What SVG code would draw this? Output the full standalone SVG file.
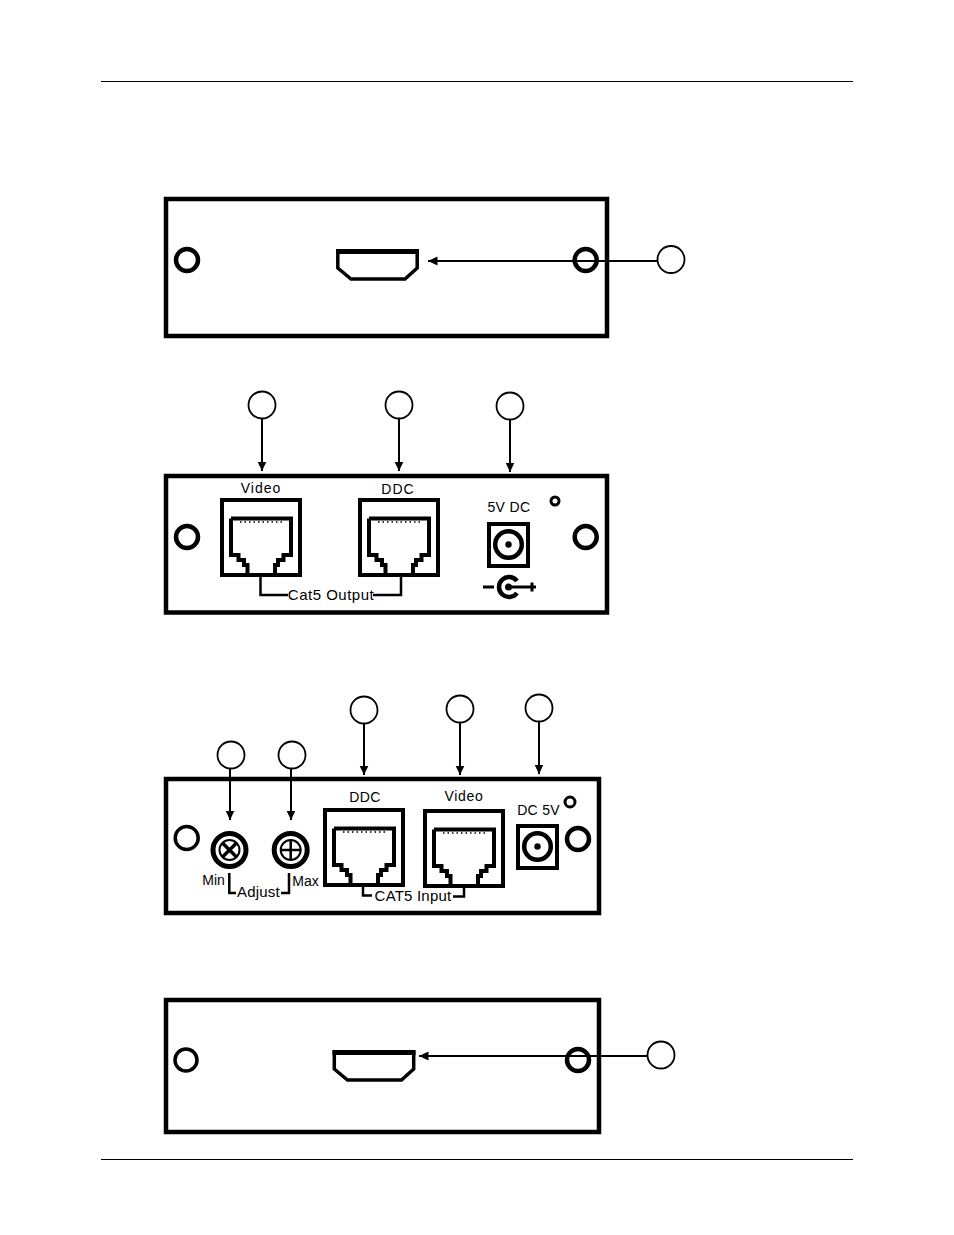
<svg xmlns="http://www.w3.org/2000/svg" xmlns:xlink="http://www.w3.org/1999/xlink" width="954" height="1235" viewBox="0 0 954 1235">
<style>
.panel{fill:#fff;stroke:#000;stroke-width:4.5}
.hole{fill:none;stroke:#000;stroke-width:4.500}
.callout{fill:#fff;stroke:#000;stroke-width:1.800}
.rule{stroke:#000;stroke-width:1}
.wire{fill:none;stroke:#000;stroke-width:2}
.brk{fill:none;stroke:#000;stroke-width:2.500}
.lbl{font-family:"Liberation Sans",Arial,sans-serif;font-size:14px;fill:#000;text-anchor:middle}
.k{fill:none;stroke:#000}
</style>
<defs>
<marker id="ah" markerUnits="userSpaceOnUse" markerWidth="11" markerHeight="11" refX="9.500" refY="5.500" orient="auto"><path d="M0,1 L9.500,5.500 L0,10 Z" fill="#000"/></marker>
<g id="rj45">
<rect x="2" y="2" width="78" height="75" fill="#fff" stroke="#000" stroke-width="4"/>
<path d="M11,20.500 H71 V57 H63.500 V62 H58 V67 H55 V77 M11,20.500 V57 H18.500 V62 H24 V67 H27.500 V77" fill="none" stroke="#000" stroke-width="4"/>
<path d="M20,24 H63" fill="none" stroke="#000" stroke-width="1.500" stroke-dasharray="1.500 3"/>
</g>
<g id="hdmi">
<path d="M1.800,2 H81.200 V19 L69,30 H15 L1.800,19 Z" fill="#fff" stroke="#000" stroke-width="3.500"/>
<rect x="0" y="0" width="83" height="5" fill="#000"/>
</g>
<g id="jack">
<rect x="2" y="2" width="39" height="42" fill="#fff" stroke="#000" stroke-width="4"/>
<circle cx="21.500" cy="22.500" r="13.300" fill="none" stroke="#000" stroke-width="4.500"/>
<circle cx="21.500" cy="22.500" r="3.200" fill="#000"/>
</g>
</defs>
<rect width="954" height="1235" fill="#fff"/>
<g id="header-rule"><line class="rule" x1="101" y1="81.500" x2="853" y2="81.500"/></g>
<g id="footer-rule"><line class="rule" x1="101" y1="1159.500" x2="853" y2="1159.500"/></g>

<g id="panel-1">
<rect class="panel" x="166" y="199" width="441" height="137"/>
<circle class="hole" cx="187" cy="260" r="11"/>
<circle class="hole" cx="585.700" cy="260" r="11"/>
<use href="#hdmi" x="336" y="249"/>
</g>

<g id="panel-2">
<rect class="panel" x="166" y="476" width="441" height="136.500"/>
<circle class="hole" cx="187" cy="537" r="11"/>
<circle class="hole" cx="585.700" cy="537" r="11"/>
<use href="#rj45" x="220" y="498"/>
<use href="#rj45" x="358" y="498"/>
<text class="lbl" x="261" y="493" style="letter-spacing:1px">Video</text>
<text class="lbl" x="398" y="494" style="letter-spacing:1px">DDC</text>
<path class="brk" d="M260.500,575 V595 H288 M401,575 V595 H373"/>
<text class="lbl" x="331" y="600" style="font-size:15px;letter-spacing:.5px">Cat5 Output</text>
<text class="lbl" x="509" y="512" style="letter-spacing:.4px">5V DC</text>
<circle cx="555" cy="501" r="4" fill="none" stroke="#000" stroke-width="3"/>
<use href="#jack" x="487" y="522"/>
<g id="polarity">
<path d="M483,587 H494 M508,587 H528 M526,587 H536 M532,582.500 V591.500" fill="none" stroke="#000" stroke-width="3"/>
<path d="M517,581 A10,10 0 1 0 517,593" fill="none" stroke="#000" stroke-width="4.500"/>
<circle cx="508.500" cy="587" r="3.500" fill="#000"/>
</g>
</g>

<g id="panel-3">
<rect class="panel" x="166" y="779" width="433" height="134"/>
<circle cx="186.700" cy="838" r="11.500" fill="none" stroke="#000" stroke-width="3.500"/>
<circle class="hole" cx="578" cy="839" r="11"/>
<g id="knob-min">
<circle class="k" cx="229.500" cy="850" r="16.500" stroke-width="5"/>
<circle class="k" cx="229.500" cy="850" r="10" stroke-width="2"/>
<path class="k" stroke-width="3.500" d="M222.500,843 L236.500,857 M236.500,843 L222.500,857"/>
</g>
<g id="knob-max">
<circle class="k" cx="290.700" cy="850" r="16.500" stroke-width="5"/>
<circle class="k" cx="290.700" cy="850" r="10" stroke-width="2"/>
<path class="k" stroke-width="2.500" d="M290.700,840 V860 M280.700,850 H300.700"/>
</g>
<text class="lbl" x="213.500" y="885">Min</text>
<text class="lbl" x="305.500" y="886">Max</text>
<text class="lbl" x="258.500" y="897" style="font-size:15px;letter-spacing:.2px">Adjust</text>
<path class="brk" d="M229.300,873 V893 H236 M289,873 V893 H281"/>
<use href="#rj45" x="323" y="808"/>
<use href="#rj45" x="423" y="809"/>
<text class="lbl" x="365" y="802" style="letter-spacing:.4px">DDC</text>
<text class="lbl" x="464" y="801" style="letter-spacing:.7px">Video</text>
<text class="lbl" x="413" y="901" style="font-size:15px;letter-spacing:.2px">CAT5 Input</text>
<path class="brk" d="M363,884 V895.500 H372 M464,885 V896.500 H453"/>
<text class="lbl" x="538.500" y="815" style="letter-spacing:.3px">DC 5V</text>
<circle cx="570" cy="802" r="5" fill="none" stroke="#000" stroke-width="3"/>
<use href="#jack" x="516" y="824"/>
</g>

<g id="panel-4">
<rect class="panel" x="166" y="1000" width="433" height="132"/>
<circle cx="186" cy="1060" r="11" fill="none" stroke="#000" stroke-width="3.500"/>
<circle class="hole" cx="578" cy="1060" r="11"/>
<use href="#hdmi" x="332.500" y="1050"/>
</g>

<g id="connectors">
<line class="wire" x1="657.500" y1="261" x2="428" y2="261" marker-end="url(#ah)"/>
<line class="wire" x1="262" y1="419" x2="262" y2="471" marker-end="url(#ah)"/>
<line class="wire" x1="399" y1="419" x2="399" y2="471" marker-end="url(#ah)"/>
<line class="wire" x1="510" y1="420" x2="510" y2="472" marker-end="url(#ah)"/>
<line class="wire" x1="364" y1="724" x2="364" y2="775" marker-end="url(#ah)"/>
<line class="wire" x1="460" y1="723" x2="460" y2="775" marker-end="url(#ah)"/>
<line class="wire" x1="539" y1="722" x2="539" y2="774" marker-end="url(#ah)"/>
<line class="wire" x1="230" y1="769" x2="230" y2="820" marker-end="url(#ah)"/>
<line class="wire" x1="291" y1="769" x2="291" y2="820" marker-end="url(#ah)"/>
<line class="wire" x1="647.500" y1="1056" x2="419" y2="1056" marker-end="url(#ah)"/>
</g>

<g id="callout-1"><circle class="callout" cx="671" cy="259.500" r="13.500"/></g>
<g id="callout-2"><circle class="callout" cx="262" cy="405" r="13.500"/></g>
<g id="callout-3"><circle class="callout" cx="399" cy="405" r="13.500"/></g>
<g id="callout-4"><circle class="callout" cx="510" cy="406" r="13.500"/></g>
<g id="callout-5"><circle class="callout" cx="364" cy="710" r="13.500"/></g>
<g id="callout-6"><circle class="callout" cx="460" cy="709" r="13.500"/></g>
<g id="callout-7"><circle class="callout" cx="539" cy="708" r="13.500"/></g>
<g id="callout-8"><circle class="callout" cx="231" cy="755" r="13.500"/></g>
<g id="callout-9"><circle class="callout" cx="292" cy="755" r="13.500"/></g>
<g id="callout-10"><circle class="callout" cx="661" cy="1055" r="13.500"/></g>
</svg>
